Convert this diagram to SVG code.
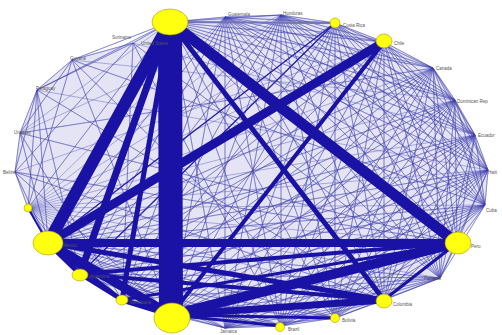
<svg xmlns="http://www.w3.org/2000/svg" width="502" height="335" viewBox="0 0 502 335">
<style>
.thin{fill:none;stroke:#4040b0;stroke-opacity:0.5;stroke-width:0.75}
.thick{fill:none;stroke:#1a12a4;stroke-linecap:butt}
.node{fill:#ffff10;stroke:#a89a00;stroke-width:0.6}
.lbl{font-family:"Liberation Sans",Arial,sans-serif;font-size:4.5px;fill:#555}
</style>
<rect width="502" height="335" fill="#ffffff"/>
<polygon points="170,22 225,17 281,15 335,23 384,42 433,68 455,100 475,135 488,170 485,205 457,243 440,278 384,300 335,318 281,326 225,328 171,315 122,300 80,274 48,243 28,208 15,172 20,133 37,90 72,60 133,43" fill="#e4e4f5"/>
<g id="connectors">
<path class="thin" d="M170 22L225 17 170 22 281 15 170 22 335 23 170 22 384 42 170 22 433 68 170 22 455 100 170 22 475 135 170 22 488 170 170 22 485 205 170 22 457 243 170 22 440 278 170 22 384 300 170 22 335 318 170 22 281 326 170 22 225 328 170 22 122 300 170 22 80 274 170 22 28 208 170 22 133 43 170 22 72 60 170 22 37 90 170 22 20 133"/>
<path class="thin" d="M225 17L281 15 225 17 335 23 225 17 384 42 225 17 433 68 225 17 455 100 225 17 475 135 225 17 488 170 225 17 485 205 225 17 457 243 225 17 440 278 225 17 384 300 225 17 335 318 225 17 281 326 225 17 225 328 225 17 171 315 225 17 122 300 225 17 80 274 225 17 48 243 225 17 28 208"/>
<path class="thin" d="M281 15L335 23 281 15 384 42 281 15 433 68 281 15 455 100 281 15 475 135 281 15 488 170 281 15 485 205 281 15 457 243 281 15 440 278 281 15 384 300 281 15 335 318 281 15 281 326 281 15 225 328 281 15 171 315 281 15 122 300 281 15 80 274 281 15 48 243 281 15 28 208"/>
<path class="thin" d="M335 23L384 42 335 23 433 68 335 23 455 100 335 23 475 135 335 23 488 170 335 23 485 205 335 23 457 243 335 23 440 278 335 23 384 300 335 23 335 318 335 23 281 326 335 23 225 328 335 23 171 315 335 23 122 300 335 23 80 274 335 23 48 243 335 23 28 208"/>
<path class="thin" d="M384 42L433 68 384 42 455 100 384 42 475 135 384 42 488 170 384 42 485 205 384 42 457 243 384 42 440 278 384 42 384 300 384 42 335 318 384 42 281 326 384 42 225 328 384 42 122 300 384 42 80 274 384 42 28 208"/>
<path class="thin" d="M433 68L455 100 433 68 475 135 433 68 488 170 433 68 485 205 433 68 457 243 433 68 440 278 433 68 384 300 433 68 335 318 433 68 281 326 433 68 225 328 433 68 171 315 433 68 122 300 433 68 80 274 433 68 48 243 433 68 28 208"/>
<path class="thin" d="M455 100L475 135 455 100 488 170 455 100 485 205 455 100 457 243 455 100 440 278 455 100 384 300 455 100 335 318 455 100 281 326 455 100 225 328 455 100 171 315 455 100 122 300 455 100 80 274 455 100 48 243 455 100 28 208"/>
<path class="thin" d="M475 135L488 170 475 135 485 205 475 135 457 243 475 135 440 278 475 135 384 300 475 135 335 318 475 135 281 326 475 135 225 328 475 135 171 315 475 135 122 300 475 135 80 274 475 135 48 243 475 135 28 208"/>
<path class="thin" d="M488 170L485 205 488 170 457 243 488 170 440 278 488 170 384 300 488 170 335 318 488 170 281 326 488 170 225 328 488 170 171 315 488 170 122 300 488 170 80 274 488 170 48 243 488 170 28 208"/>
<path class="thin" d="M485 205L457 243 485 205 440 278 485 205 384 300 485 205 335 318 485 205 281 326 485 205 225 328 485 205 171 315 485 205 122 300 485 205 80 274 485 205 48 243 485 205 28 208"/>
<path class="thin" d="M457 243L440 278 457 243 335 318 457 243 281 326 457 243 225 328 457 243 28 208"/>
<path class="thin" d="M440 278L384 300 440 278 335 318 440 278 281 326 440 278 225 328 440 278 171 315 440 278 122 300 440 278 80 274 440 278 48 243 440 278 28 208"/>
<path class="thin" d="M384 300L335 318 384 300 281 326 384 300 225 328 384 300 28 208"/>
<path class="thin" d="M335 318L281 326 335 318 225 328 335 318 122 300 335 318 80 274 335 318 48 243 335 318 28 208"/>
<path class="thin" d="M281 326L225 328 281 326 122 300 281 326 80 274 281 326 48 243 281 326 28 208"/>
<path class="thin" d="M225 328L171 315 225 328 122 300 225 328 80 274 225 328 48 243 225 328 28 208"/>
<path class="thin" d="M171 315L28 208 122 300 28 208 80 274 28 208"/>
<path class="thin" d="M15 172L48 243 15 172 28 208 15 172 20 133 15 172 37 90 15 172 171 315 15 172 384 300 15 172 457 243 15 172 384 42"/>
<path class="thin" d="M20 133L37 90 20 133 72 60 20 133 48 243 20 133 122 300 20 133 457 243 20 133 433 68 20 133 281 15"/>
<path class="thin" d="M37 90L72 60 37 90 133 43 37 90 48 243 37 90 28 208 37 90 80 274 37 90 384 300 37 90 488 170"/>
<path class="thin" d="M72 60L133 43 72 60 28 208 72 60 171 315 72 60 335 318 72 60 485 205 72 60 455 100"/>
<path class="thin" d="M133 43L15 172 133 43 122 300 133 43 281 326 133 43 440 278 133 43 475 135"/>
<path d="M170 22L335 23" fill="none" stroke="#7474b4" stroke-width="2"/>
<path d="M335 23L80 274M335 23L48 243" fill="none" stroke="#2a24a8" stroke-width="1.3"/>
<path class="thick" d="M170 24L171 315" stroke-width="24"/>
<path class="thick" d="M170 22L48 243" stroke-width="12"/>
<path class="thick" d="M170 22L80 274" stroke-width="7"/>
<path class="thick" d="M170 22L122 300" stroke-width="5"/>
<path class="thick" d="M170 22L457 243" stroke-width="11"/>
<path class="thick" d="M170 22L384 300" stroke-width="5"/>
<path class="thick" d="M384 42L48 243" stroke-width="9"/>
<path class="thick" d="M384 42L171 315" stroke-width="4"/>
<path class="thick" d="M48 243L457 243" stroke-width="8"/>
<path class="thick" d="M171 315L457 243" stroke-width="10"/>
<path class="thick" d="M171 315L384 300" stroke-width="7"/>
<path class="thick" d="M48 243L171 315" stroke-width="9"/>
<path class="thick" d="M48 243L384 300" stroke-width="5"/>
<path class="thick" d="M80 274L457 243" stroke-width="4"/>
<path class="thick" d="M80 274L384 300" stroke-width="4"/>
<path class="thick" d="M122 300L457 243" stroke-width="3"/>
<path class="thick" d="M48 243L80 274" stroke-width="5"/>
<path class="thick" d="M80 274L122 300" stroke-width="4"/>
<path class="thick" d="M122 300L171 315" stroke-width="5"/>
<path class="thick" d="M48 243L122 300" stroke-width="4"/>
<path class="thick" d="M384 300L457 243" stroke-width="3"/>
<path class="thick" d="M171 315L335 318" stroke-width="3"/>
<path class="thick" d="M171 315L281 326" stroke-width="3"/>
<path class="thick" d="M48 243L28 208" stroke-width="2"/>
</g>
<g id="n0"><ellipse class="node" cx="170" cy="22" rx="18" ry="13"/><text class="lbl" x="141" y="45">United States</text></g>
<g id="n1"><text class="lbl" x="228" y="16">Guatemala</text></g>
<g id="n2"><text class="lbl" x="283" y="15">Honduras</text></g>
<g id="n3"><circle class="node" cx="335" cy="23" r="5"/><text class="lbl" x="343" y="27">Costa Rica</text></g>
<g id="n4"><ellipse class="node" cx="384" cy="41" rx="8" ry="7"/><text class="lbl" x="394" y="45">Chile</text></g>
<g id="n5"><text class="lbl" x="436" y="70">Canada</text></g>
<g id="n6"><text class="lbl" x="457" y="103">Dominican Rep</text></g>
<g id="n7"><text class="lbl" x="478" y="137">Ecuador</text></g>
<g id="n8"><text class="lbl" x="488" y="174">Haiti</text></g>
<g id="n9"><text class="lbl" x="486" y="212">Cuba</text></g>
<g id="n10"><ellipse class="node" cx="458" cy="243" rx="13" ry="11"/><text class="lbl" x="471" y="248">Peru</text></g>
<g id="n11"><text class="lbl" x="424" y="280">Panama</text></g>
<g id="n12"><ellipse class="node" cx="384" cy="301" rx="8" ry="7"/><text class="lbl" x="393" y="306">Colombia</text></g>
<g id="n13"><circle class="node" cx="335" cy="318" r="4.5"/><text class="lbl" x="342" y="322">Bolivia</text></g>
<g id="n14"><circle class="node" cx="280" cy="327" r="4.5"/><text class="lbl" x="288" y="331">Brazil</text></g>
<g id="n15"><text class="lbl" x="220" y="333">Jamaica</text></g>
<g id="n16"><ellipse class="node" cx="172" cy="318" rx="18" ry="15"/></g>
<g id="n17"><ellipse class="node" cx="122" cy="300" rx="6" ry="5"/><text class="lbl" x="130" y="304">Venezuela</text></g>
<g id="n18"><ellipse class="node" cx="80" cy="275" rx="8" ry="6"/><text class="lbl" x="90" y="278">Argentina</text></g>
<g id="n19"><ellipse class="node" cx="48" cy="243" rx="15" ry="12"/><text class="lbl" x="63" y="247">Mexico</text></g>
<g id="n20"><circle class="node" cx="28" cy="208" r="4"/></g>
<g id="n21"><text class="lbl" x="3" y="174">Belize</text></g>
<g id="n22"><text class="lbl" x="14" y="134">Uruguay</text></g>
<g id="n23"><text class="lbl" x="36" y="90">Paraguay</text></g>
<g id="n24"><text class="lbl" x="70" y="60">Guyana</text></g>
<g id="n25"><text class="lbl" x="112" y="39">Suriname</text></g>
</svg>
